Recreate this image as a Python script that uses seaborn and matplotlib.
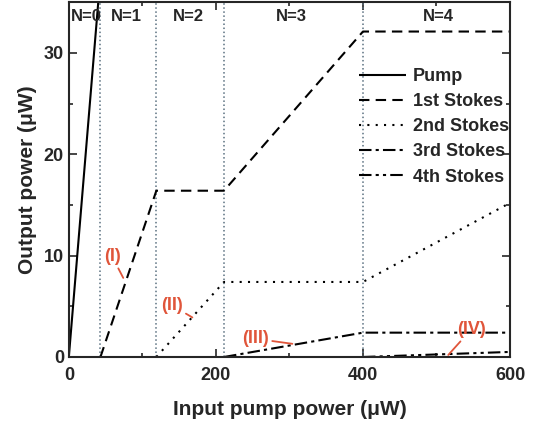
import matplotlib
matplotlib.use('Agg')
import matplotlib.pyplot as plt
import seaborn as sns
from matplotlib.ticker import MultipleLocator

sns.set_style('ticks')
plt.rcParams['font.family'] = ['Liberation Sans', 'DejaVu Sans']
plt.rcParams['font.weight'] = 'bold'

# Data
pump_x = [0, 43]
pump_y = [0, 37.6]
s1_x = [43, 119, 211, 400, 600]
s1_y = [0, 16.4, 16.4, 32.1, 32.1]
s2_x = [119, 211, 400, 600]
s2_y = [0, 7.4, 7.4, 15.2]
s3_x = [211, 400, 600]
s3_y = [0, 2.4, 2.4]
s4_x = [400, 600]
s4_y = [0, 0.5]

thresholds = [43, 119, 211, 400]
region_labels = ['N=0', 'N=1', 'N=2', 'N=3', 'N=4']
region_label_x = [24, 78, 162, 302, 502]

notes = ['(I)', '(II)', '(III)', '(IV)']
note_text_xy = [(59, 9.9), (140, 5.1), (254, 1.8), (547, 2.7)]
note_arrow_xy = [(74, 7.8), (168, 3.9), (304, 1.3), (516, 0.2)]

fig = plt.figure(figsize=(5.42, 4.26), dpi=100)
ax = fig.add_axes([0.127, 0.162, 0.814, 0.833])

for t in thresholds:
    ax.axvline(t, color='#5a7080', lw=1.1, ls=':', zorder=1)

sns.lineplot(x=pump_x, y=pump_y, ax=ax, color='black', lw=1.5, label='Pump')
sns.lineplot(x=s1_x, y=s1_y, ax=ax, color='black', lw=1.5, label='1st Stokes')
sns.lineplot(x=s2_x, y=s2_y, ax=ax, color='black', lw=1.5, label='2nd Stokes')
sns.lineplot(x=s3_x, y=s3_y, ax=ax, color='black', lw=1.5, label='3rd Stokes')
sns.lineplot(x=s4_x, y=s4_y, ax=ax, color='black', lw=1.5, label='4th Stokes')

styles = [(0, ()), (0, (5, 3)), (0, (1, 3)), (0, (6, 2, 1.5, 2)), (0, (6, 2, 1.5, 2, 1.5, 2))]
for line, st in zip(ax.get_lines()[len(thresholds):], styles):
    line.set_linestyle(st)

for lab, lx in zip(region_labels, region_label_x):
    ax.text(lx, 33.6, lab, ha='center', va='center', fontsize=12, fontweight='bold')

for lab, txy, axy in zip(notes, note_text_xy, note_arrow_xy):
    ax.annotate(lab, xy=axy, xytext=txy, ha='center', va='center',
                color='#e0553a', fontsize=13, fontweight='bold',
                arrowprops=dict(arrowstyle='-', color='#e0553a', lw=1.3,
                                shrinkA=0, shrinkB=0))

ax.set_xlim(0, 600)
ax.set_ylim(0, 35)
ax.xaxis.set_major_locator(MultipleLocator(200))
ax.xaxis.set_minor_locator(MultipleLocator(100))
ax.yaxis.set_major_locator(MultipleLocator(10))
ax.yaxis.set_minor_locator(MultipleLocator(5))
ax.tick_params(which='both', direction='in', top=True, right=True, width=1.2)
ax.tick_params(which='major', length=6, labelsize=13)
ax.tick_params(axis='x', which='major', pad=7)
ax.tick_params(which='minor', length=3)
for sp in ax.spines.values():
    sp.set_linewidth(1.5)

ax.set_xlabel('Input pump power (\u03bcW)', fontsize=15, fontweight='bold', labelpad=12)
ax.set_ylabel('Output power (\u03bcW)', fontsize=15, fontweight='bold', labelpad=5)

leg = ax.legend(loc='upper right', bbox_to_anchor=(1.035, 0.86), frameon=False,
                fontsize=13, handlelength=2.6, labelspacing=0.45, handletextpad=0.4)
for t in leg.get_texts():
    t.set_fontweight('bold')

fig.savefig('out.png', dpi=100)
